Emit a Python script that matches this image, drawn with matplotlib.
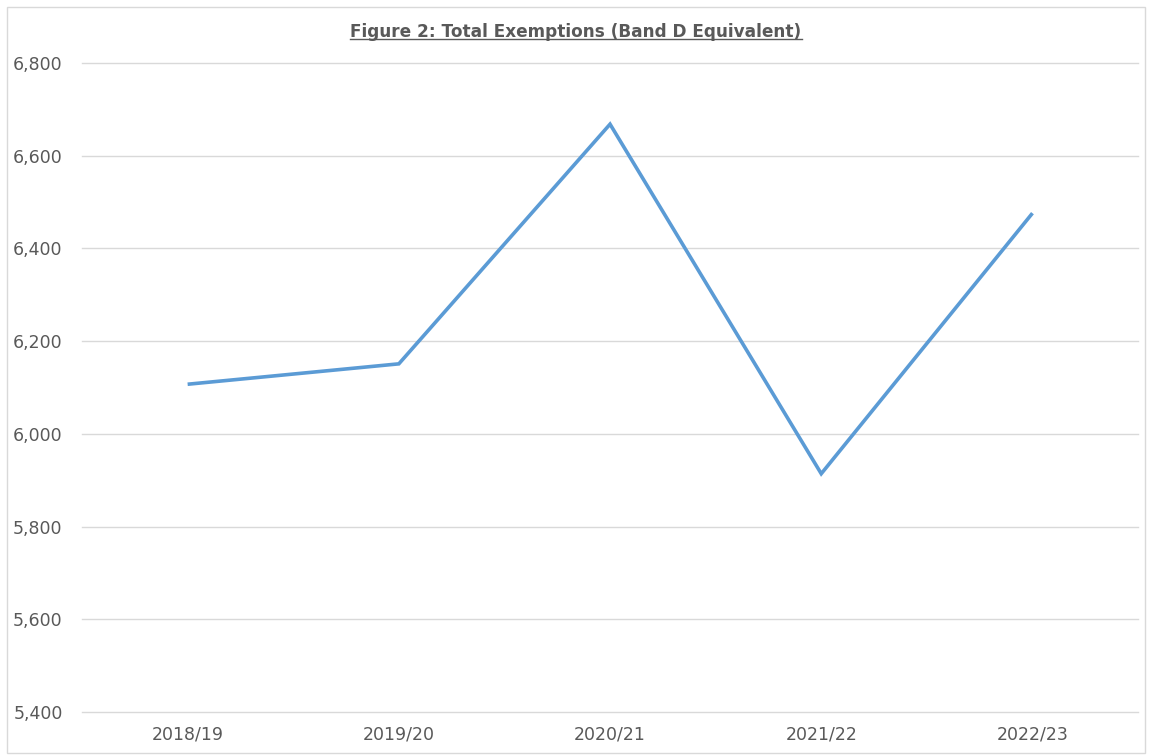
import matplotlib
matplotlib.use("Agg")
import matplotlib.pyplot as plt
from matplotlib.patches import Rectangle
from matplotlib.ticker import FuncFormatter

# ── DATA ──────────────────────────────────────────────────────────────────────
years = ['2018/19', '2019/20', '2020/21', '2021/22', '2022/23']
exemptions = [6107, 6151, 6668, 5914, 6476]
y_ticks = [5400, 5600, 5800, 6000, 6200, 6400, 6600, 6800]

TEXT = '#595959'
GRID = '#d9d9d9'
LINE = '#5b9bd5'

fig = plt.figure(figsize=(11.52, 7.56), dpi=100)
fig.patch.set_facecolor('white')
fig.patches.append(Rectangle((0.006, 0.004), 0.988, 0.987, transform=fig.transFigure,
                             fill=False, edgecolor=GRID, linewidth=1))

ax = fig.add_axes([0.0712, 0.0582, 0.9167, 0.8585])
ax.plot(range(len(years)), exemptions, color=LINE, linewidth=2.6,
        solid_capstyle='butt', solid_joinstyle='miter', zorder=3)

ax.set_xlim(-0.5, len(years) - 0.5)
ax.set_ylim(y_ticks[0], y_ticks[-1])
ax.set_yticks(y_ticks)
ax.yaxis.set_major_formatter(FuncFormatter(lambda v, p: f'{int(v):,}'))
ax.set_xticks(range(len(years)))
ax.set_xticklabels(years)
ax.tick_params(length=0, colors=TEXT, labelsize=12.5)
ax.tick_params(axis='y', pad=14)
ax.tick_params(axis='x', pad=10)
ax.grid(axis='y', color=GRID, linewidth=1)
for gl in ax.get_ygridlines():
    gl.set_clip_on(False)
ax.set_axisbelow(True)
for s in ax.spines.values():
    s.set_visible(False)

title = fig.text(0.5, 0.958, 'Figure 2: Total Exemptions (Band D Equivalent)',
                 ha='center', va='center', fontsize=12.2, fontweight='bold', color=TEXT)
# underline matching the title width
fig.canvas.draw()
bb = title.get_window_extent().transformed(fig.transFigure.inverted())
fig.lines.append(plt.Line2D([bb.x0, bb.x1], [bb.y0 + 0.002, bb.y0 + 0.002],
                            transform=fig.transFigure, color=TEXT, linewidth=1))

fig.savefig('out.png', dpi=100, facecolor='white')
